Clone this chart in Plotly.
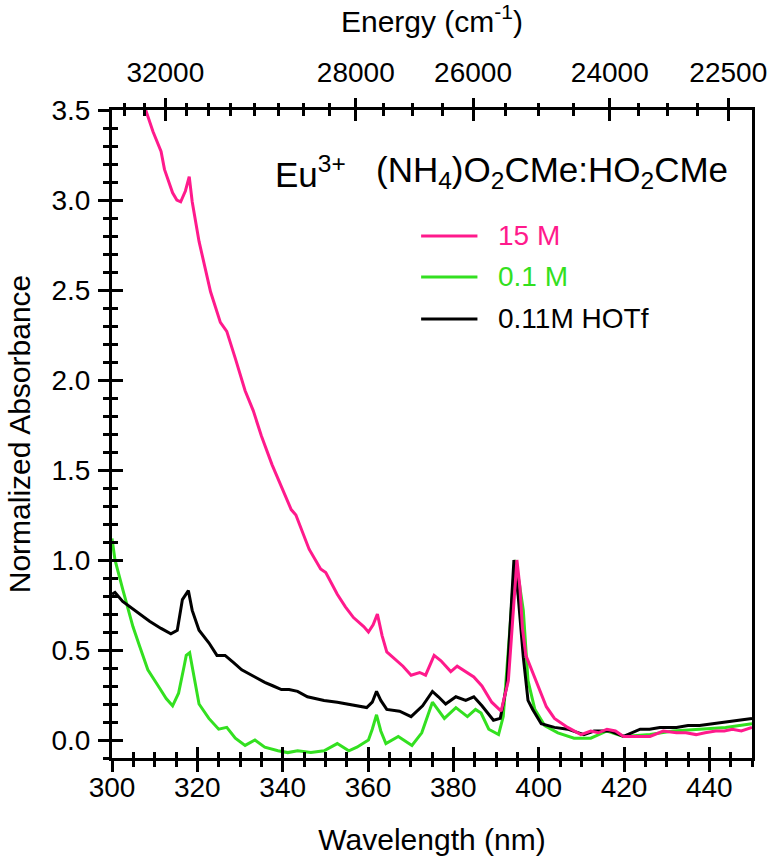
import plotly.graph_objects as go

# ---------------- data ----------------
wl_15M = [307.9, 309.6, 311.5, 312.3, 314.2, 315.2, 316.1, 317.2, 318.1, 318.8, 320.4, 321.8, 323.1, 325.4,
          326.9, 328.9, 331.2, 333.1, 335.0, 337.5, 339.7, 342.0, 343.1, 346.2, 348.9, 350.1, 352.8, 354.7,
          356.6, 359.0, 360.1, 361.2, 362.2, 363.3, 364.4, 365.9, 368.2, 370.1, 372.1, 373.5, 375.5, 377.1,
          379.4, 380.9, 382.9, 384.8, 386.7, 389.0, 391.2, 392.9, 393.8, 394.9, 395.6, 396.2, 397.0, 398.3,
          399.8, 401.8, 403.7, 406.8, 409.9, 412.2, 414.0, 416.0, 418.0, 419.9, 423.0, 426.1, 429.2, 432.3,
          434.5, 436.9, 439.0, 441.5, 443.5, 445.4, 447.5, 450.0]
abs_15M = [3.50, 3.38, 3.27, 3.17, 3.04, 3.00, 2.99, 3.05, 3.13, 2.99, 2.77, 2.62, 2.49, 2.32,
           2.27, 2.12, 1.94, 1.83, 1.69, 1.53, 1.41, 1.28, 1.25, 1.06, 0.95, 0.93, 0.81, 0.74,
           0.68, 0.63, 0.60, 0.64, 0.70, 0.58, 0.49, 0.46, 0.41, 0.36, 0.375, 0.36, 0.47, 0.44,
           0.38, 0.41, 0.38, 0.35, 0.30, 0.21, 0.16, 0.33, 0.63, 1.00, 0.85, 0.62, 0.47, 0.39,
           0.30, 0.185, 0.12, 0.07, 0.03, 0.05, 0.04, 0.06, 0.05, 0.02, 0.02, 0.02, 0.05, 0.04,
           0.04, 0.03, 0.04, 0.05, 0.05, 0.06, 0.05, 0.07]

wl_01M = [300.0, 300.7, 302.6, 304.9, 306.5, 308.4, 311.1, 312.7, 314.2, 315.6, 316.9, 317.4, 318.2, 319.2,
          320.4, 322.7, 325.0, 326.9, 328.9, 331.2, 333.5, 335.8, 338.9, 341.2, 343.5, 346.6, 349.7, 352.8,
          355.5, 357.4, 360.1, 361.0, 362.0, 363.0, 364.2, 367.1, 370.3, 372.6, 375.1, 377.9, 380.6, 383.3,
          385.2, 386.5, 388.3, 390.6, 391.7, 393.3, 394.4, 395.4, 396.4, 397.5, 399.1, 401.4, 404.5, 408.3,
          412.2, 416.0, 419.9, 426.1, 431.5, 437.7, 443.8, 450.0]
abs_01M = [1.12, 1.00, 0.83, 0.63, 0.52, 0.39, 0.29, 0.23, 0.19, 0.26, 0.41, 0.47, 0.485, 0.35,
           0.20, 0.12, 0.06, 0.07, 0.01, -0.03, 0.00, -0.04, -0.06, -0.07, -0.06, -0.07, -0.06, -0.02,
           -0.06, -0.04, 0.00, 0.06, 0.14, 0.05, -0.02, 0.02, -0.03, 0.04, 0.21, 0.12, 0.18, 0.13,
           0.17, 0.15, 0.06, 0.03, 0.13, 0.63, 1.00, 0.88, 0.72, 0.33, 0.17, 0.08, 0.04, 0.01,
           0.01, 0.05, 0.02, 0.03, 0.05, 0.06, 0.07, 0.09]

wl_hotf = [300.0, 300.7, 302.5, 304.2, 306.5, 308.8, 311.5, 313.8, 315.3, 316.5, 317.9, 318.8, 320.4, 322.7,
           324.6, 326.5, 328.5, 330.4, 333.5, 335.8, 337.8, 339.7, 341.5, 343.5, 345.8, 347.8, 349.7, 352.8,
           355.1, 357.5, 359.7, 361.0, 362.0, 363.0, 364.4, 367.4, 370.1, 372.8, 375.1, 376.5, 378.2, 380.6,
           382.9, 384.8, 386.7, 389.4, 391.0, 392.5, 393.4, 394.2, 395.2, 396.4, 397.5, 398.6, 400.6, 403.7,
           406.8, 410.6, 413.0, 416.8, 419.9, 423.8, 426.0, 428.4, 432.3, 435.0, 437.7, 440.5, 443.1, 446.9,
           450.0]
abs_hotf = [0.81, 0.82, 0.77, 0.74, 0.70, 0.66, 0.62, 0.59, 0.61, 0.78, 0.83, 0.72, 0.61, 0.54,
            0.47, 0.47, 0.43, 0.39, 0.35, 0.32, 0.30, 0.28, 0.28, 0.27, 0.24, 0.23, 0.22, 0.21,
            0.20, 0.19, 0.18, 0.21, 0.27, 0.22, 0.17, 0.16, 0.13, 0.19, 0.27, 0.24, 0.20, 0.24,
            0.22, 0.24, 0.19, 0.11, 0.12, 0.30, 0.65, 1.00, 0.80, 0.46, 0.22, 0.17, 0.09, 0.07,
            0.06, 0.03, 0.05, 0.05, 0.02, 0.06, 0.06, 0.07, 0.07, 0.08, 0.08, 0.09, 0.10, 0.11,
            0.12]

series_names = ["15 M", "0.1 M", "0.11M HOTf"]
series_colors = ["#FF1A8C", "#33E020", "#000000"]

energy_major = [32000, 28000, 26000, 24000, 22500]
energy_labels = ["32000", "28000", "26000", "24000", "22500"]
energy_minor = [33000, 32500, 31500, 31000, 30500, 30000, 29500, 29000, 28500,
                27500, 27000, 26500, 25500, 25000, 24500, 23625, 23250, 22875]

energy_major_nm = [1e7 / e for e in energy_major]
energy_minor_nm = [1e7 / e for e in energy_minor]

FONT = "Liberation Sans, Arial, sans-serif"
TICKFONT = dict(family=FONT, size=28, color="black")
TITLEFONT = dict(family=FONT, size=30, color="black")

fig = go.Figure()
# draw order: green, black, pink on top
for wl, ab, name, col in [(wl_01M, abs_01M, series_names[1], series_colors[1]),
                          (wl_hotf, abs_hotf, series_names[2], series_colors[2]),
                          (wl_15M, abs_15M, series_names[0], series_colors[0])]:
    fig.add_trace(go.Scatter(x=wl, y=ab, mode="lines", name=name,
                             line=dict(color=col, width=3), showlegend=False))

# empty carriers so that the overlaid tick-only axes get drawn
for xa, ya in [("x2", "y2"), ("x3", "y2"), ("x4", "y2")]:
    fig.add_trace(go.Scatter(x=[], y=[], xaxis=xa, yaxis=ya, mode="lines",
                             showlegend=False, hoverinfo="skip"))

XR = [300, 450]
YR = [-0.1, 3.5]
common_x = dict(range=XR, showgrid=False, zeroline=False)
TK = dict(tickwidth=3, tickcolor="black")

fig.update_layout(
    width=779, height=867,
    margin=dict(l=112, r=19, t=110, b=109),
    paper_bgcolor="white", plot_bgcolor="white",
    font=dict(family=FONT, color="black"),
    xaxis=dict(**common_x, side="bottom", anchor="y",
               showline=True, linewidth=3, linecolor="black", mirror=True,
               tick0=300, dtick=20, ticks="outside", ticklen=11, **TK,
               minor=dict(dtick=5, tick0=300, ticks="outside", ticklen=6, **TK),
               tickfont=TICKFONT, ticklabelstandoff=-9,
               title=dict(text="Wavelength (nm)", font=TITLEFONT, standoff=28)),
    xaxis3=dict(**common_x, side="bottom", anchor="y2", overlaying="x",
                tick0=300, dtick=20, ticks="inside", ticklen=11, **TK,
                minor=dict(dtick=5, tick0=300, ticks="inside", ticklen=6, **TK),
                showticklabels=False, showline=False),
    xaxis2=dict(**common_x, side="top", anchor="y2", overlaying="x",
                tickmode="array", tickvals=energy_major_nm, ticktext=energy_labels,
                ticks="outside", ticklen=11, **TK,
                minor=dict(tickmode="array", tickvals=energy_minor_nm, ticks="outside",
                           ticklen=6, **TK),
                tickfont=TICKFONT, ticklabelstandoff=5,
                title=dict(text="Energy (cm<sup>-1</sup>)", font=TITLEFONT, standoff=20),
                showline=False),
    xaxis4=dict(**common_x, side="top", anchor="y2", overlaying="x",
                tickmode="array", tickvals=energy_major_nm,
                ticks="inside", ticklen=11, **TK,
                minor=dict(tickmode="array", tickvals=energy_minor_nm, ticks="inside",
                           ticklen=6, **TK),
                showticklabels=False, showline=False),
    yaxis=dict(range=YR, showgrid=False, zeroline=False, side="left", anchor="x",
               showline=True, linewidth=3, linecolor="black", mirror=True,
               tick0=0, dtick=0.5, tickformat=".1f",
               ticks="outside", ticklen=11, **TK,
               minor=dict(dtick=0.1, tick0=0, ticks="outside", ticklen=6, **TK),
               tickfont=TICKFONT, ticklabelstandoff=2,
               title=dict(text="Normalized Absorbance", font=TITLEFONT, standoff=12)),
    yaxis2=dict(range=YR, showgrid=False, zeroline=False, side="left", anchor="x", overlaying="y",
                tick0=0, dtick=0.5, ticks="inside", ticklen=11, **TK,
                minor=dict(dtick=0.1, tick0=0, ticks="inside", ticklen=6, **TK),
                showticklabels=False, showline=False),
)

# header text inside the plot
fig.add_annotation(x=0.2515, y=0.904, xref="paper", yref="paper", xanchor="left", yanchor="middle",
                   text="Eu<sup>3+</sup>", showarrow=False,
                   font=dict(family=FONT, size=35, color="black"))
fig.add_annotation(x=0.409, y=0.904, xref="paper", yref="paper", xanchor="left", yanchor="middle",
                   text="(NH<sub>4</sub>)O<sub>2</sub>CMe:HO<sub>2</sub>CMe", showarrow=False,
                   font=dict(family=FONT, size=35, color="black"))

# custom legend (long line samples with coloured labels)
legend_y = [0.8056, 0.7423, 0.6775]
for name, col, yy in zip(series_names, series_colors, legend_y):
    fig.add_shape(type="line", xref="paper", yref="paper", x0=0.483, x1=0.571, y0=yy, y1=yy,
                  line=dict(color=col, width=3))
    fig.add_annotation(x=0.600, y=yy, xref="paper", yref="paper", xanchor="left", yanchor="middle",
                       text=name, showarrow=False,
                       font=dict(family=FONT, size=28, color=col))

fig.write_html("out.html", config={"displayModeBar": False},
               post_script="document.body.style.margin='0px';")
